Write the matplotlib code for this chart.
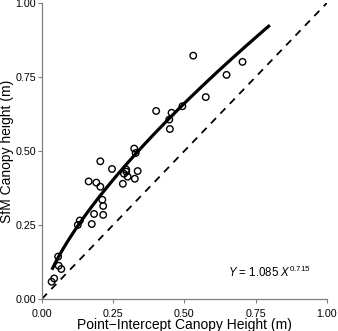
import numpy as np
import matplotlib
matplotlib.use("Agg")
import matplotlib.pyplot as plt
from matplotlib.ticker import FormatStrFormatter

plt.rcParams['font.family'] = ['Liberation Sans', 'DejaVu Sans']
plt.rcParams['mathtext.fontset'] = 'custom'
plt.rcParams['mathtext.rm'] = 'Liberation Sans'
plt.rcParams['mathtext.it'] = 'Liberation Sans:italic'

# point-intercept vs SfM canopy heights (m)
pi_height = [0.034, 0.043, 0.057, 0.059, 0.068, 0.126, 0.133, 0.175, 0.183,
             0.164, 0.191, 0.205, 0.205, 0.212, 0.215, 0.215, 0.246, 0.284,
             0.288, 0.296, 0.296, 0.301, 0.324, 0.329, 0.326, 0.336, 0.401,
             0.447, 0.449, 0.455, 0.493, 0.531, 0.575, 0.648, 0.704]
sfm_height = [0.058, 0.069, 0.143, 0.112, 0.101, 0.250, 0.265, 0.253, 0.287,
              0.397, 0.393, 0.379, 0.465, 0.335, 0.314, 0.284, 0.439, 0.389,
              0.423, 0.437, 0.430, 0.413, 0.508, 0.493, 0.406, 0.432, 0.635,
              0.606, 0.574, 0.629, 0.651, 0.822, 0.682, 0.757, 0.801]

# fitted power law shown on the chart
fit_a = 1.085
fit_b = 0.715
fit_xmin, fit_xmax = 0.035, 0.80

xfit = np.linspace(fit_xmin, fit_xmax, 200)
yfit = fit_a * xfit ** fit_b

fig = plt.figure(figsize=(3.38, 3.31), dpi=100)
ax = fig.add_axes([0.124, 0.097, 0.843, 0.894])

ax.plot([0, 1], [0, 1], color='black', lw=1.3, ls=(0, (4, 3.5)))
ax.plot(xfit, yfit, color='black', lw=2.3, solid_capstyle='butt')
ax.scatter(pi_height, sfm_height, s=22, facecolors='none', edgecolors='black',
           linewidths=1.0, zorder=3)

ax.text(0.80, 0.091, r'$Y$ = 1.085 $X^{0.715}$', ha='center', va='center',
        fontsize=8.3)

ax.set_xlim(0, 1)
ax.set_ylim(0, 1)
ax.set_xticks([0, 0.25, 0.5, 0.75, 1.0])
ax.set_yticks([0, 0.25, 0.5, 0.75, 1.0])
ax.xaxis.set_major_formatter(FormatStrFormatter('%.2f'))
ax.yaxis.set_major_formatter(FormatStrFormatter('%.2f'))
ax.tick_params(direction='out', length=3, width=0.8, labelsize=7.7,
               color='#808080')
ax.tick_params(axis='x', pad=4)
ax.tick_params(axis='y', pad=1.2)
for s in ['top', 'right']:
    ax.spines[s].set_visible(False)
for s in ['left', 'bottom']:
    ax.spines[s].set_linewidth(0.9)
    ax.spines[s].set_color('#808080')

ax.set_xlabel('Point\u2212Intercept Canopy Height (m)', fontsize=10)
ax.set_ylabel('SfM Canopy height (m)', fontsize=10)
ax.xaxis.set_label_coords(0.5, -0.063)
ax.yaxis.set_label_coords(-0.097, 0.5)

fig.savefig('out.png', dpi=100)
